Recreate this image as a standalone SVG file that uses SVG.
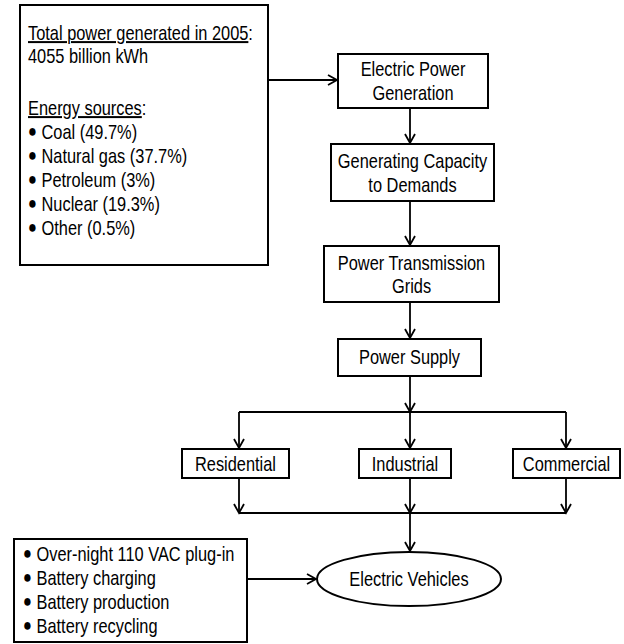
<svg xmlns="http://www.w3.org/2000/svg" width="624" height="644" viewBox="0 0 624 644">
<style>
text{font-family:"Liberation Sans",Arial,sans-serif;font-size:20px;fill:#000}
.c{text-anchor:middle}
.b{font-size:18px}
.box{fill:#fff;stroke:#000;stroke-width:2}
.ln{fill:none;stroke:#000;stroke-width:1.8}
.ar{fill:none;stroke:#000;stroke-width:1.8;marker-end:url(#ah)}
.u{text-decoration:underline}
</style>
<defs>
<marker id="ah" markerUnits="userSpaceOnUse" markerWidth="12" markerHeight="12" viewBox="0 0 12 12" refX="10" refY="6" orient="auto">
<path d="M1,1 L10,6 L1,11" fill="none" stroke="#000" stroke-width="1.8"/>
</marker>
</defs>
<rect width="624" height="644" fill="#fff"/>
<g id="connectors">
<path class="ar" d="M268,80 H337"/>
<path class="ar" d="M410,108 V143"/>
<path class="ar" d="M410,201 V245"/>
<path class="ar" d="M410,302 V338"/>
<path class="ar" d="M410,376 V412"/>
<path class="ln" d="M239,412 H566"/>
<path class="ar" d="M239,412 V448"/>
<path class="ar" d="M410,412 V448"/>
<path class="ar" d="M566,412 V448"/>
<path class="ar" d="M239,478 V513"/>
<path class="ar" d="M410,478 V513"/>
<path class="ar" d="M566,478 V513"/>
<path class="ln" d="M239,513 H566"/>
<path class="ar" d="M410,513 V551"/>
<path class="ar" d="M247,579 H316"/>
</g>
<g id="stats">
<rect class="box" x="20" y="5" width="248" height="260"/>
<text transform="translate(28,40) scale(0.82,1)"><tspan class="u">Total power generated in 2005</tspan>:</text>
<text transform="translate(28,63) scale(0.82,1)">4055 billion kWh</text>
<text transform="translate(28,115) scale(0.82,1)"><tspan class="u">Energy sources</tspan>:</text>
<text transform="translate(28,139) scale(0.82,1)"><tspan class="b" dy="-2">●</tspan><tspan x="16.5" dy="2">Coal (49.7%)</tspan></text>
<text transform="translate(28,163) scale(0.82,1)"><tspan class="b" dy="-2">●</tspan><tspan x="16.5" dy="2">Natural gas (37.7%)</tspan></text>
<text transform="translate(28,187) scale(0.82,1)"><tspan class="b" dy="-2">●</tspan><tspan x="16.5" dy="2">Petroleum (3%)</tspan></text>
<text transform="translate(28,211) scale(0.82,1)"><tspan class="b" dy="-2">●</tspan><tspan x="16.5" dy="2">Nuclear (19.3%)</tspan></text>
<text transform="translate(28,235) scale(0.82,1)"><tspan class="b" dy="-2">●</tspan><tspan x="16.5" dy="2">Other (0.5%)</tspan></text>
</g>
<g id="generation">
<rect class="box" x="338" y="54" width="150" height="54"/>
<text class="c" transform="translate(413,76) scale(0.82,1)">Electric Power</text>
<text class="c" transform="translate(413,100) scale(0.82,1)">Generation</text>
</g>
<g id="capacity">
<rect class="box" x="331" y="144" width="163" height="57"/>
<text class="c" transform="translate(412.5,168) scale(0.82,1)">Generating Capacity</text>
<text class="c" transform="translate(412.5,192) scale(0.82,1)">to Demands</text>
</g>
<g id="transmission">
<rect class="box" x="324" y="246" width="175" height="56"/>
<text class="c" transform="translate(411.5,270) scale(0.82,1)">Power Transmission</text>
<text class="c" transform="translate(411.5,293) scale(0.82,1)">Grids</text>
</g>
<g id="supply">
<rect class="box" x="338" y="339" width="143" height="37"/>
<text class="c" transform="translate(409.5,364) scale(0.82,1)">Power Supply</text>
</g>
<g id="residential">
<rect class="box" x="182" y="449" width="107" height="29"/>
<text class="c" transform="translate(235.5,471) scale(0.82,1)">Residential</text>
</g>
<g id="industrial">
<rect class="box" x="359" y="449" width="92" height="29"/>
<text class="c" transform="translate(405,471) scale(0.82,1)">Industrial</text>
</g>
<g id="commercial">
<rect class="box" x="513" y="449" width="107" height="29"/>
<text class="c" transform="translate(566.5,471) scale(0.82,1)">Commercial</text>
</g>
<g id="ev">
<ellipse class="box" cx="409" cy="579" rx="92" ry="27"/>
<text class="c" transform="translate(409,586) scale(0.82,1)">Electric Vehicles</text>
</g>
<g id="battery">
<rect class="box" x="14" y="539" width="233" height="103"/>
<text transform="translate(23,561) scale(0.82,1)"><tspan class="b" dy="-2">●</tspan><tspan x="16.5" dy="2">Over-night 110 VAC plug-in</tspan></text>
<text transform="translate(23,585) scale(0.82,1)"><tspan class="b" dy="-2">●</tspan><tspan x="16.5" dy="2">Battery charging</tspan></text>
<text transform="translate(23,609) scale(0.82,1)"><tspan class="b" dy="-2">●</tspan><tspan x="16.5" dy="2">Battery production</tspan></text>
<text transform="translate(23,633) scale(0.82,1)"><tspan class="b" dy="-2">●</tspan><tspan x="16.5" dy="2">Battery recycling</tspan></text>
</g>
</svg>
